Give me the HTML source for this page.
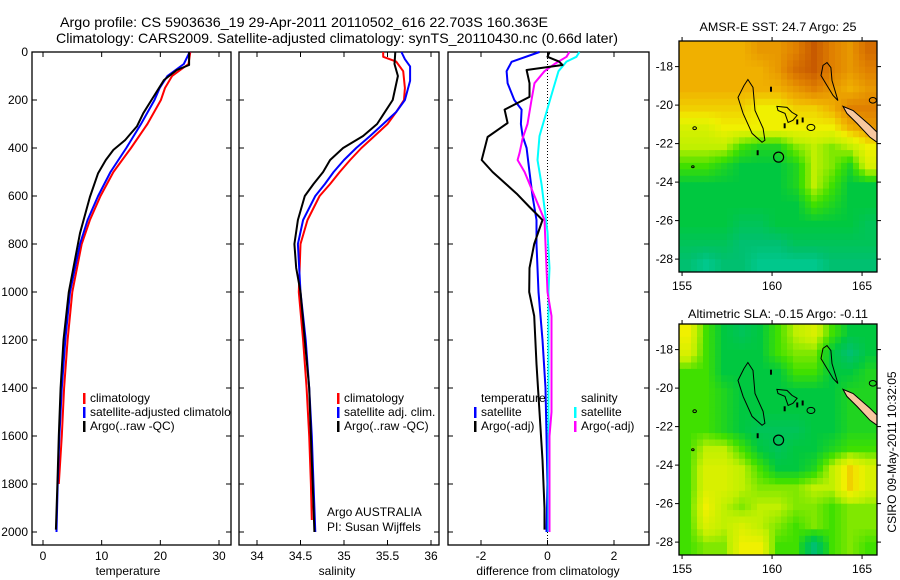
<!DOCTYPE html>
<html><head><meta charset="utf-8">
<style>
html,body{margin:0;padding:0;background:#fff;}
svg{display:block;font-family:"Liberation Sans",sans-serif;}
</style></head>
<body>
<svg id="fig" width="900" height="580" viewBox="0 0 900 580" xmlns="http://www.w3.org/2000/svg">
<defs><clipPath id="clip-p1"><rect x="32" y="52" width="199" height="493"/></clipPath></defs>
<text x="60" y="27" font-size="14" textLength="488" lengthAdjust="spacingAndGlyphs">Argo profile: CS 5903636_19 29-Apr-2011 20110502_616 22.703S 160.363E</text>
<text x="56" y="43" font-size="14" textLength="562" lengthAdjust="spacingAndGlyphs">Climatology: CARS2009. Satellite-adjusted climatology: synTS_20110430.nc (0.66d later)</text>
<text x="778" y="31" font-size="12" text-anchor="middle" textLength="157" lengthAdjust="spacingAndGlyphs">AMSR-E SST: 24.7 Argo: 25</text>
<text x="778" y="318" font-size="12" text-anchor="middle" textLength="180" lengthAdjust="spacingAndGlyphs">Altimetric SLA: -0.15 Argo: -0.11</text>
<text x="0" y="0" font-size="12" text-anchor="middle" transform="translate(896,452) rotate(-90)">CSIRO 09-May-2011 10:32:05</text>
<g id="layer"></g>
</svg>
<script>
// ---- profile data ----
const tDepthClim = [0,50,100,150,200,300,400,500,600,700,800,1000,1200,1400,1600,1800];
const tClim = [25.1,24.8,22.0,20.8,20.1,17.8,15.0,12.0,9.8,8.0,6.6,5.0,4.2,3.6,3.2,2.7];
const tDepthSat = [0,50,100,150,200,300,400,500,600,700,800,1000,1200,1400,1600,1800,2000];
const tSat = [25.0,24.0,21.2,19.9,19.0,16.7,14.2,11.5,9.4,7.6,6.3,4.6,3.8,3.2,2.8,2.5,2.3];
const tDepthArgo = [0,54,75,117,200,255,310,367,408,450,505,604,755,1000,1200,1400,1600,1800,1990];
const tArgo = [24.9,24.9,22.8,20.6,18.5,17.1,16.0,14.0,12.0,10.7,9.4,8.0,6.3,4.4,3.5,3.0,2.7,2.45,2.2];

const sDepthClim = [0,20,40,80,150,200,250,300,350,400,450,500,550,600,700,800,1000,1200,1400,1600,1800,1950];
const sClim = [35.45,35.45,35.6,35.68,35.7,35.69,35.6,35.5,35.35,35.2,35.07,34.95,34.84,34.72,34.58,34.5,34.48,34.53,34.57,34.6,34.62,34.63];
const sDepthSat = [0,30,60,120,200,250,300,350,400,450,500,550,600,700,800,1000,1200,1400,1600,1800,2000];
const sSat = [35.66,35.7,35.76,35.76,35.7,35.6,35.45,35.3,35.14,35.0,34.88,34.78,34.67,34.53,34.47,34.5,34.56,34.6,34.63,34.65,34.67];
const sDepthArgo = [0,50,100,200,300,350,400,450,500,550,600,700,800,900,1000,1200,1400,1600,1800,2000];
const sArgo = [35.59,35.58,35.62,35.56,35.38,35.22,34.99,34.84,34.76,34.65,34.55,34.47,34.43,34.45,34.5,34.55,34.6,34.62,34.64,34.66];

const dDepthTArgo = [0,20,40,54,75,130,187,240,296,354,450,500,590,646,700,800,900,1000,1100,1300,1500,1700,1900,1990];
const dTArgo = [0.06,0,0.35,0.45,-0.63,-0.54,-0.54,-1.29,-1.2,-1.8,-1.98,-1.65,-0.93,-0.54,-0.15,-0.4,-0.54,-0.55,-0.4,-0.33,-0.24,-0.15,-0.09,-0.09];
const dDepthTSat = [0,41,80,130,200,240,300,350,400,500,600,700,800,1000,1200,1400,1600,1800,2000];
const dTSat = [-0.24,-1.08,-1.23,-1.2,-1.0,-0.78,-0.8,-0.75,-0.63,-0.54,-0.45,-0.33,-0.33,-0.27,-0.15,-0.06,-0.03,0,-0.03];
const dDepthSArgo = [0,20,50,80,130,200,300,360,420,450,500,600,700,800,900,1000,1100,1500,1600,2000];
const dSArgo = [0.66,0.57,0.21,-0.09,-0.39,-0.48,-0.6,-0.75,-0.84,-0.9,-0.69,-0.39,-0.09,-0.06,-0.03,0,0.12,0.12,0.06,0.06];
const dDepthSSat = [0,20,40,80,150,250,350,450,550,650,750,900,1000,2000];
const dSSat = [0.96,0.87,0.57,0.33,0.18,-0.03,-0.24,-0.3,-0.18,-0.09,0,0.06,0.03,0.03];

const depthTicks = [0,200,400,600,800,1000,1200,1400,1600,1800,2000];
const tTicks = [0,10,20,30];
const sTicks = [34,34.5,35,35.5,36];
const sTickLabels = ["34","34.5","35","35.5","36"];
const dTicks = [-2,0,2];

// ---- map data (values 0..10 on colour scale), rows north->south, 1 deg cells ----
const sstGrid = [
[7,7,7,7,7.5,7.5,8,9,8,7.5,8.5],
[7,7,7,7,7,7.5,8.5,9,8,7.5,8],
[7,7,7,7,7,7,7.5,8,7.5,7,7.5],
[6.5,6.5,6.5,6.5,6,6,6.5,6.5,7,8,8],
[5.5,5.5,6,6,6,6,6,6,6,7,7.5],
[5,5,5,4,3.5,3.5,4.5,5,4.5,5,6],
[4,4,3.5,3,3,3,3.5,5,4.5,3.5,5.5],
[3,3,3,3,3,3,3.5,5,4,3,3],
[3,3,3,3,3,3,3,4,3.5,3,3],
[3,3,3,2.5,2.5,3,3,3,3,3,2.5],
[2.5,2.5,2.5,2,2,2,2.5,2.5,2.5,2.5,2.5],
[2,1.5,2,2,1.5,1.5,1.5,1.5,2,2,2]];
const slaGrid = [
[6,4,3,2.5,3,4,5,5.5,4,3,3],
[5.5,4,3,3,3,4,4.5,4.5,3,2,3],
[4,4,3,3,3,3,4,4,3,3,3.5],
[4,4,3.5,3,3,3,3,3,3,3.5,3.5],
[4,4,3.5,3,3,3,3,3,3,3.5,3.5],
[4,4,3.5,3,2.5,2.5,2.5,3,3,3.5,3.5],
[4,5,5,4,3,2.5,3,3,3.5,4,4],
[4,5.5,5.5,5,4,3,3,3.5,5,6.5,5.5],
[4,5.5,5.5,5,4.5,4.5,4.5,5,5,6.5,5.5],
[4,6,5,4.5,5,5,4.5,4.5,4,4.5,4.5],
[4,5.5,5,5.5,5,4.5,4,4.5,4,4.5,4.5],
[4,4.5,4.5,6,6,4,4,2,4,4.5,4]];
const lonTicks = [155,160,165];
const latTicks = [-18,-20,-22,-24,-26,-28];
const reefA = [[158.44,-18.98],[158.66,-18.67],[158.94,-19.08],[159.05,-20.28],[159.5,-21.21],[159.6,-21.83],[159.44,-21.93],[158.89,-21.47],[158.39,-20.43],[158.11,-19.6]];
const reefB = [[160.27,-20.07],[160.83,-20.12],[161.11,-20.38],[161.39,-20.53],[161.16,-20.79],[160.89,-20.9],[160.72,-20.43],[160.33,-20.28]];
const reefD = [[162.83,-17.94],[163.05,-17.79],[163.27,-18.05],[163.33,-18.72],[163.61,-19.6],[163.66,-19.76],[163.39,-19.5],[163.05,-18.98],[162.72,-18.46]];
const newCaledonia = [[163.94,-20.07],[164.5,-20.28],[165.44,-21.05],[165.83,-21.41],[165.83,-21.93],[165.44,-21.67],[164.72,-20.95],[164.16,-20.43]];
const smallRings = [[162.16,-21.16,0.22],[155.7,-21.2,0.1],[155.6,-23.2,0.07],[165.6,-19.75,0.2]];
const smallMarks = [[159.94,-19.2],[159.2,-22.5],[160.7,-21.1],[161.4,-20.9],[161.7,-20.8]];
const argoLon = 160.363, argoLat = -22.703;

const NS='http://www.w3.org/2000/svg';
const layer=document.getElementById('layer');
function el(tag,attrs,parent){const e=document.createElementNS(NS,tag);for(const k in attrs)e.setAttribute(k,attrs[k]);(parent||layer).appendChild(e);return e;}
function lin(d0,d1,r0,r1){return v=>r0+(v-d0)/(d1-d0)*(r1-r0);}

const yDepth = lin(0,2000,52,532);
const PT=52, PB=545;

function panel(name,x0,x1,xs,ticks,labels,showDepth,xlabel,xlabelX){
  const g=el('g',{});
  
  
  const r=el('rect',{x:x0,y:PT,width:x1-x0,height:PB-PT,fill:'none',stroke:'#000','stroke-width':1.3},g);
  
  
  ticks.forEach((t,i)=>{const x=xs(t);
    el('line',{x1:x,x2:x,y1:PT,y2:PT+5,stroke:'#000'},g);
    el('line',{x1:x,x2:x,y1:PB,y2:PB-5,stroke:'#000'},g);
    const tx=el('text',{x:x,y:PB+15,'font-size':12,'text-anchor':'middle'},g);
    tx.textContent=labels[i];
    
    
  });
  depthTicks.forEach(d=>{const y=yDepth(d);
    el('line',{x1:x0,x2:x0+5,y1:y,y2:y,stroke:'#000'},g);
    el('line',{x1:x1,x2:x1-5,y1:y,y2:y,stroke:'#000'},g);
    if(showDepth){const tx=el('text',{x:x0-4,y:y+4,'font-size':12,'text-anchor':'end'},g);tx.textContent=d;
      
      }
  });
  const xl=el('text',{x:xlabelX,y:PB+30,'font-size':12,'text-anchor':'middle'},g);
  xl.textContent=xlabel;
  
  
  return g;
}
function series(g,name,depths,vals,xs,color,w){
  const pts=depths.map((d,i)=>xs(vals[i]).toFixed(1)+','+yDepth(d).toFixed(1)).join(' ');
  const p=el('polyline',{points:pts,fill:'none',stroke:color,'stroke-width':w,'stroke-linejoin':'round'},g);
  
  
}
function legend(g,name,x,y,color,label){
  if(color){const b=el('rect',{x:x-7,y:y-9,width:2.5,height:11,fill:color},g);
    
    }
  const t=el('text',{x:x,y:y,'font-size':12},g);t.textContent=label;
  
  
}

// Panel 1 temperature
const xT=lin(0,30,43,219);
const g1=panel('temperature-panel',32,231,xT,tTicks,tTicks.map(String),true,'temperature',128);
series(g1,'temp-climatology-line',tDepthClim,tClim,xT,'#ff0000',2);
series(g1,'temp-satellite-line',tDepthSat,tSat,xT,'#0000ff',2);
series(g1,'temp-argo-line',tDepthArgo,tArgo,xT,'#000000',2);
const lg1=el('g',{'clip-path':'url(#clip-p1)'},g1);
legend(lg1,'legend-climatology',90,402,'#ff0000','climatology');
legend(lg1,'legend-satellite-adjusted',90,416,'#0000ff','satellite-adjusted climatology');
legend(lg1,'legend-argo-raw',90,430,'#000000','Argo(..raw -QC)');

// Panel 2 salinity
const xS=lin(34,36,257,431);
const g2=panel('salinity-panel',239,439,xS,sTicks,sTickLabels,false,'salinity',337);
series(g2,'sal-climatology-line',sDepthClim,sClim,xS,'#ff0000',2);
series(g2,'sal-satellite-line',sDepthSat,sSat,xS,'#0000ff',2);
series(g2,'sal-argo-line',sDepthArgo,sArgo,xS,'#000000',2);
legend(g2,'legend-sal-climatology',344,402,'#ff0000','climatology');
legend(g2,'legend-sal-satellite',344,416,'#0000ff','satellite adj. clim.');
legend(g2,'legend-sal-argo',344,430,'#000000','Argo(..raw -QC)');
legend(g2,'argo-australia-label',327,516,null,'Argo AUSTRALIA');
legend(g2,'pi-label',327,531,null,'PI: Susan Wijffels');

// Panel 3 differences
const xD=lin(-2,2,481,614);
const g3=panel('difference-panel',448,649,xD,dTicks,dTicks.map(String),false,'difference from climatology',548);
el('line',{x1:xD(0),x2:xD(0),y1:PT,y2:PB,stroke:'#000','stroke-dasharray':'1,2','stroke-width':1},g3);
series(g3,'diff-temp-satellite-line',dDepthTSat,dTSat,xD,'#0000ff',2);
series(g3,'diff-sal-satellite-line',dDepthSSat,dSSat,xD,'#00ffff',2);
series(g3,'diff-sal-argo-line',dDepthSArgo,dSArgo,xD,'#ff00ff',2);
series(g3,'diff-temp-argo-line',dDepthTArgo,dTArgo,xD,'#000000',2);
legend(g3,'legend-temperature-heading',481,402,null,'temperature');
legend(g3,'legend-diff-temp-satellite',481,416,'#0000ff','satellite');
legend(g3,'legend-diff-temp-argo',481,430,'#000000','Argo(-adj)');
legend(g3,'legend-salinity-heading',581,402,null,'salinity');
legend(g3,'legend-diff-sal-satellite',581,416,'#00ffff','satellite');
legend(g3,'legend-diff-sal-argo',581,430,'#ff00ff','Argo(-adj)');

// ---- maps ----
const cstops=[[0,[0,224,224]],[2,[0,192,112]],[3,[0,200,64]],[4,[64,224,0]],[5,[192,240,0]],[6,[240,240,0]],[7,[240,176,0]],[8,[224,128,0]],[9,[200,90,0]],[10,[176,48,0]]];
function cmap(v){for(let i=1;i<cstops.length;i++){if(v<=cstops[i][0]){const a=cstops[i-1],b=cstops[i];const f=(v-a[0])/(b[0]-a[0]);
  const c=a[1].map((x,k)=>Math.round(x+(b[1][k]-x)*f));return 'rgb('+c.join(',')+')';}}return 'rgb(176,48,0)';}
function sample(grid,fr,fc){
  const R=grid.length,C=grid[0].length;
  fr=Math.max(0,Math.min(R-1,fr));fc=Math.max(0,Math.min(C-1,fc));
  const r0=Math.floor(fr),c0=Math.floor(fc),r1=Math.min(R-1,r0+1),c1=Math.min(C-1,c0+1);
  const a=fr-r0,b=fc-c0;
  return grid[r0][c0]*(1-a)*(1-b)+grid[r0][c1]*(1-a)*b+grid[r1][c0]*a*(1-b)+grid[r1][c1]*a*b;
}
function drawMap(name,grid,top,bottom){
  const x0=679,x1=877;
  const xs=lin(154.83,165.83,x0,x1), ys=lin(-16.67,-28.67,top,bottom);
  const g=el('g',{});
  
  
  const cp='clip-'+name;
  const defs=el('defs',{},g);const c=el('clipPath',{id:cp},defs);el('rect',{x:x0,y:top,width:x1-x0,height:bottom-top},c);
  const cells=el('g',{'clip-path':'url(#'+cp+')'},g);
  const S=3, R=grid.length, C=grid[0].length;
  for(let r=0;r<R*S;r++)for(let k=0;k<C*S;k++){
    const v=sample(grid,(r+0.5)/S-0.5,(k+0.5)/S-0.5);
    const lx=154.83+k/S, la=-16.67-r/S;
    const rc=el('rect',{x:xs(lx).toFixed(1),y:ys(la).toFixed(1),width:(xs(lx+1/S)-xs(lx)+0.6).toFixed(1),height:(ys(la-1/S)-ys(la)+0.6).toFixed(1),fill:cmap(v)},cells);
    
    
  }
  const poly=(pts,fill,nm)=>{const p=el('polygon',{points:pts.map(q=>xs(q[0]).toFixed(1)+','+ys(q[1]).toFixed(1)).join(' '),fill:fill,stroke:'#000','stroke-width':1},cells);
    };
  poly(reefA,'none','coastline-reef-west');
  poly(reefB,'none','coastline-reef-middle');
  poly(reefD,'none','coastline-reef-north');
  poly(newCaledonia,'#f8c8a0','new-caledonia');
  smallRings.forEach(s=>{el('ellipse',{cx:xs(s[0]),cy:ys(s[1]),rx:s[2]*18,ry:s[2]*14,fill:'none',stroke:'#000'},cells);});
  smallMarks.forEach(s=>{el('rect',{x:xs(s[0])-1,y:ys(s[1])-3,width:2,height:5,fill:'#000'},cells);});
  const ac=el('circle',{cx:xs(argoLon),cy:ys(argoLat),r:5,fill:'none',stroke:'#000','stroke-width':1.2},g);
  
  
  const fr=el('rect',{x:x0,y:top,width:x1-x0,height:bottom-top,fill:'none',stroke:'#000','stroke-width':1.3},g);
  
  
  lonTicks.forEach(l=>{const x=xs(l);
    el('line',{x1:x,x2:x,y1:top,y2:top-4,stroke:'#000'},g);
    el('line',{x1:x,x2:x,y1:bottom,y2:bottom+4,stroke:'#000'},g);
    const t=el('text',{x:x,y:bottom+18,'font-size':12,'text-anchor':'middle'},g);t.textContent=l;
    
    });
  latTicks.forEach(l=>{const y=ys(l);
    el('line',{x1:x0,x2:x0-4,y1:y,y2:y,stroke:'#000'},g);
    el('line',{x1:x1,x2:x1+4,y1:y,y2:y,stroke:'#000'},g);
    const t=el('text',{x:x0-6,y:y+4,'font-size':12,'text-anchor':'end'},g);t.textContent=l;
    
    });
}
drawMap('sst-map',sstGrid,41,272);
drawMap('sla-map',slaGrid,324,555);
</script>
</body></html>
